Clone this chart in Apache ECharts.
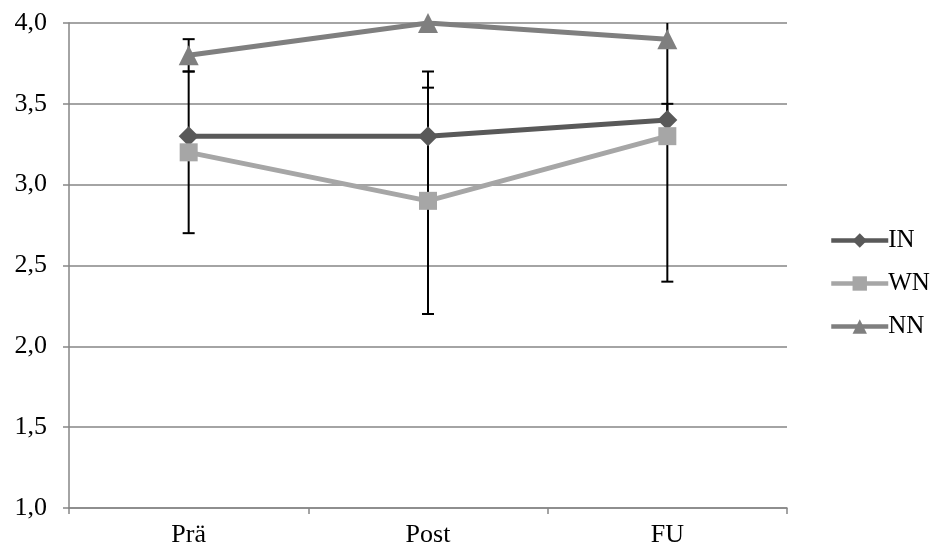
<!DOCTYPE html>
<html><head><meta charset="utf-8">
<script src="https://cdn.jsdelivr.net/npm/echarts@6/dist/echarts.min.js"></script>
<style>html,body{margin:0;padding:0;background:#fff}#c{width:930px;height:549px}</style>
</head><body><div id="c"></div>
<script>
const categories = ['Prä', 'Post', 'FU'];
const seriesNames = ['IN', 'WN', 'NN'];
const valuesIN = [3.3, 3.3, 3.4];
const valuesWN = [3.2, 2.9, 3.3];
const valuesNN = [3.8, 4.0, 3.9];
// error bar ranges [low, high] per category (null = none)
const errIN = [null, [2.9, 3.7], [3.3, 3.5]];
const errWN = [[2.7, 3.7], [2.2, 3.6], [2.4, 4.2]];
const errNN = [[3.7, 3.9], null, null];
const yTicks = [1.0, 1.5, 2.0, 2.5, 3.0, 3.5, 4.0];

const Y_MIN = 1, Y_MAX = 4;
const colors = ['#595959', '#a6a6a6', '#7f7f7f'];
const symbols = ['diamond', 'rect', 'triangle'];
const symbolSizes = [20, 18, 20];

const errData = [];
[errIN, errWN, errNN].forEach(arr => arr.forEach((r, i) => { if (r) errData.push([i, r[0], r[1]]); }));

const chart = echarts.init(document.getElementById('c'), null, {renderer: 'canvas'});
const font = '"Liberation Serif", "Times New Roman", serif';

const lineSeries = [valuesIN, valuesWN, valuesNN].map((vals, k) => ({
  name: seriesNames[k], type: 'line', data: vals, z: 3,
  symbol: symbols[k], symbolSize: symbolSizes[k],
  lineStyle: {color: colors[k], width: 5},
  itemStyle: {color: colors[k], borderWidth: 0},
  emphasis: {disabled: true}
}));

const errSeries = {
  type: 'custom', z: 2, silent: true,
  data: errData,
  encode: {x: 0, y: [1, 2]},
  renderItem: function (params, api) {
    const c = api.value(0);
    const lo = Math.max(Y_MIN, api.value(1));
    const hiRaw = api.value(2);
    const hi = Math.min(Y_MAX, hiRaw);
    const pLo = api.coord([c, lo]);
    const pHi = api.coord([c, hi]);
    const w = 6;
    const st = {stroke: '#000', lineWidth: 2};
    const children = [
      {type: 'line', shape: {x1: pLo[0], y1: pLo[1], x2: pHi[0], y2: pHi[1]}, style: st},
      {type: 'line', shape: {x1: pLo[0] - w, y1: pLo[1], x2: pLo[0] + w, y2: pLo[1]}, style: st}
    ];
    if (hiRaw <= Y_MAX) children.push({type: 'line', shape: {x1: pHi[0] - w, y1: pHi[1], x2: pHi[0] + w, y2: pHi[1]}, style: st});
    return {type: 'group', children: children};
  }
};

chart.setOption({
  animation: false,
  backgroundColor: '#fff',
  grid: {left: 69, top: 23, right: 143, bottom: 41, containLabel: false},
  legend: {
    orient: 'vertical', left: 824, top: 223, itemGap: 18,
    itemWidth: 57, itemHeight: 18,
    data: seriesNames,
    lineStyle: {width: 4.5},
    textStyle: {fontFamily: font, fontSize: 25, color: '#000', padding: [0, 0, 0, -5]},
    selectedMode: false
  },
  xAxis: {
    type: 'category', data: categories, boundaryGap: true,
    axisLine: {lineStyle: {color: '#868686', width: 1.5}},
    axisTick: {show: true, length: 6, inside: false, lineStyle: {color: '#868686', width: 1.5}},
    axisLabel: {fontFamily: font, fontSize: 26, color: '#000', margin: 14},
    splitLine: {show: false}
  },
  yAxis: {
    type: 'value', min: Y_MIN, max: Y_MAX, interval: 0.5,
    axisLine: {show: true, lineStyle: {color: '#868686', width: 1.5}},
    axisTick: {show: true, length: 6, lineStyle: {color: '#868686', width: 1.5}},
    axisLabel: {fontFamily: font, fontSize: 26, color: '#000', margin: 22,
      formatter: v => yTicks.includes(v) ? v.toFixed(1).replace('.', ',') : ''},
    splitLine: {show: true, lineStyle: {color: '#868686', width: 1.5}}
  },
  series: [errSeries, ...lineSeries]
});
</script></body></html>
